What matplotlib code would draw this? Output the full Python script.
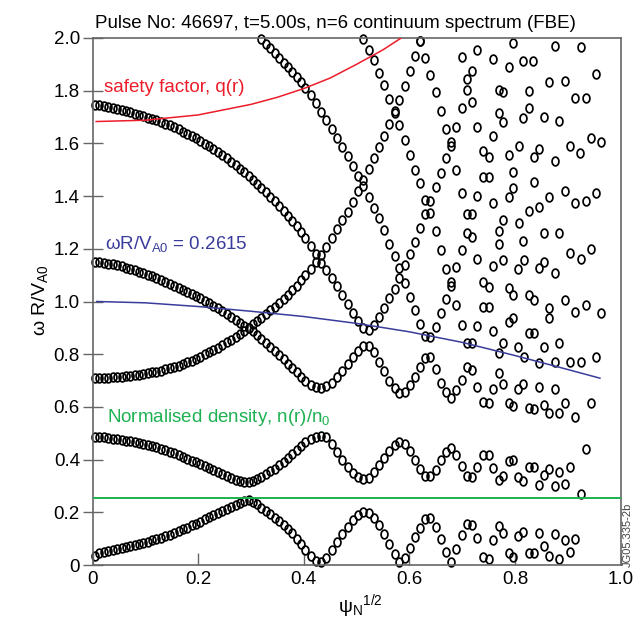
import numpy as np
import matplotlib
matplotlib.use('Agg')
import matplotlib.pyplot as plt
from matplotlib.path import Path

# ---------------- data ----------------
TITLE = 'Pulse No: 46697, t=5.00s, n=6 continuum spectrum (FBE)'
X_TICKS = [0, 0.2, 0.4, 0.6, 0.8, 1.0]
X_TICK_LABELS = ['0', '0.2', '0.4', '0.6', '0.8', '1.0']
Y_TICKS = [0, 0.2, 0.4, 0.6, 0.8, 1.0, 1.2, 1.4, 1.6, 1.8, 2.0]
Y_TICK_LABELS = ['0', '0.2', '0.4', '0.6', '0.8', '1.0', '1.2', '1.4', '1.6', '1.8', '2.0']

# radial grid, inner part
X_LEFT = [0.005, 0.013, 0.022, 0.030, 0.038, 0.047, 0.055, 0.063, 0.071, 0.080,
          0.088, 0.096, 0.105, 0.113, 0.121, 0.130, 0.138, 0.146, 0.154, 0.163,
          0.171, 0.179, 0.188, 0.196, 0.204, 0.213, 0.221, 0.229, 0.237, 0.246,
          0.254, 0.262, 0.271, 0.279, 0.287, 0.296, 0.304, 0.312, 0.320, 0.329,
          0.337, 0.345, 0.354, 0.362, 0.370, 0.378, 0.387, 0.395, 0.403]
L0_LEFT = [0.035, 0.045, 0.051, 0.055, 0.058, 0.062, 0.065, 0.069, 0.073, 0.077,
           0.081, 0.085, 0.089, 0.094, 0.099, 0.104, 0.109, 0.115, 0.121, 0.128,
           0.135, 0.142, 0.150, 0.157, 0.165, 0.173, 0.181, 0.189, 0.197, 0.205,
           0.213, 0.221, 0.229, 0.236, 0.243, 0.245, 0.240, 0.231, 0.218, 0.205,
           0.192, 0.180, 0.166, 0.152, 0.137, 0.120, 0.100, 0.080, 0.058]
L1_LEFT = [0.487, 0.486, 0.484, 0.482, 0.480, 0.477, 0.474, 0.472, 0.469, 0.466,
           0.463, 0.459, 0.455, 0.451, 0.446, 0.441, 0.436, 0.430, 0.424, 0.417,
           0.410, 0.403, 0.396, 0.389, 0.382, 0.375, 0.368, 0.360, 0.352, 0.344,
           0.337, 0.330, 0.324, 0.319, 0.316, 0.316, 0.320, 0.327, 0.335, 0.344,
           0.355, 0.366, 0.378, 0.391, 0.405, 0.420, 0.436, 0.452, 0.468]
L2_LEFT = [0.709, 0.709, 0.710, 0.711, 0.712, 0.713, 0.714, 0.716, 0.718, 0.720,
           0.722, 0.725, 0.728, 0.731, 0.734, 0.738, 0.742, 0.746, 0.751, 0.757,
           0.763, 0.769, 0.776, 0.783, 0.791, 0.799, 0.807, 0.816, 0.825, 0.835,
           0.845, 0.855, 0.866, 0.877, 0.889, 0.901, 0.913, 0.925, 0.938, 0.952,
           0.966, 0.980, 0.995, 1.010, 1.026, 1.042, 1.060, 1.080, 1.100]
L3_LEFT = [1.151, 1.149, 1.147, 1.144, 1.141, 1.137, 1.133, 1.129, 1.124, 1.119,
           1.113, 1.107, 1.101, 1.095, 1.089, 1.082, 1.075, 1.068, 1.060, 1.053,
           1.045, 1.037, 1.029, 1.021, 1.012, 1.003, 0.994, 0.984, 0.974, 0.963,
           0.952, 0.941, 0.930, 0.919, 0.908, 0.900, 0.888, 0.874, 0.859, 0.843,
           0.828, 0.812, 0.796, 0.780, 0.764, 0.748, 0.731, 0.714, 0.698]
D1_LEFT = [1.746, 1.744, 1.741, 1.738, 1.735, 1.731, 1.727, 1.723, 1.718, 1.713,
           1.708, 1.703, 1.698, 1.693, 1.688, 1.682, 1.675, 1.668, 1.661, 1.653,
           1.645, 1.637, 1.628, 1.619, 1.609, 1.599, 1.589, 1.578, 1.567, 1.555,
           1.543, 1.530, 1.517, 1.504, 1.490, 1.476, 1.461, 1.446, 1.430, 1.414,
           1.397, 1.380, 1.362, 1.344, 1.325, 1.306, 1.286, 1.264, 1.242]
B_LEFT = [None] * 38 + [1.997, 1.979, 1.961, 1.943, 1.925, 1.907, 1.889, 1.870,
                        1.851, 1.832, 1.812]

# radial grid, middle part
X_MID = [0.413, 0.423, 0.433, 0.443, 0.453, 0.463, 0.473, 0.483, 0.493, 0.503,
         0.513, 0.523, 0.533, 0.542, 0.552, 0.562, 0.572, 0.581, 0.591, 0.601,
         0.611, 0.620, 0.630, 0.640, 0.650, 0.660, 0.669, 0.679, 0.689, 0.699,
         0.709, 0.718]
L0_MID = [0.035, 0.015, 0.010, 0.028, 0.056, 0.088, 0.118, 0.146, 0.170, 0.188,
          0.200, 0.197, 0.178, 0.152, 0.118, 0.080, 0.042, 0.010, 0.025, 0.066,
          0.106, 0.142, 0.175, 0.178, 0.145, 0.097, 0.048, 0.010, 0.062, 0.112,
          0.156, 0.152]
L1_MID = [0.480, 0.487, 0.490, 0.484, 0.460, 0.430, 0.400, 0.372, 0.350, 0.334,
          0.328, 0.332, 0.352, 0.378, 0.405, 0.432, 0.455, 0.468, 0.458, 0.432,
          0.400, 0.365, 0.337, 0.337, 0.360, 0.398, 0.430, 0.443, 0.418, 0.375,
          0.336, 0.335]
L2_MID = [1.125, 1.150, 1.175, 1.205, 1.240, 1.275, 1.308, 1.340, 1.378, 1.418,
          1.460, 1.502, 1.545, 1.585, 1.628, 1.672, 1.715, 1.765, 1.818, 1.875,
          1.932, 1.988] + [None] * 10
L3_MID = [0.684, 0.674, 0.671, 0.678, 0.692, 0.712, 0.738, 0.764, 0.790, 0.814,
          0.832, 0.832, 0.808, 0.772, 0.738, 0.700, 0.670, 0.652, 0.657, 0.683,
          0.715, 0.750, 0.786, 0.790, 0.742, 0.692, 0.655, 0.633, 0.663, 0.702,
          0.750, 0.740]
D1_MID = [1.212, 1.180, 1.148, 1.118, 1.088, 1.058, 1.026, 0.992, 0.958, 0.925,
          0.900, 0.892, 0.910, 0.940, 0.975, 1.012, 1.048, 1.090, 1.138, 1.182,
          1.227, 1.278, 1.333, 1.380, 1.436, 1.487, 1.545, 1.590, 1.663, 1.734,
          1.803, 1.876]
B_MID = [1.785, 1.752, 1.720, 1.687, 1.654, 1.620, 1.586, 1.552, 1.514, 1.476,
         1.440, 1.398, 1.355, 1.315, 1.270, 1.220, 1.172, 1.126, 1.070, 1.018,
         0.968, 0.915, 0.868, 0.866, 0.905, 0.958, 1.008, 1.060, 1.130, 1.195,
         1.259, 1.332]
C_MID = [None] * 10 + [1.995, 1.955, 1.915, 1.868, 1.820, 1.770, 1.722, 1.668,
                       1.612, 1.556, 1.499, 1.448, 1.385, 1.335, 1.268, 1.195,
                       1.125, 1.075, 0.985, 0.911, 0.841, 0.841]
E_MID = [None] * 21 + [1.990, 1.925, 1.860, 1.796, 1.722, 1.655, 1.606, 1.500,
                       1.412, 1.332, 1.246]
F_MID = [None] * 29 + [1.929, 1.843, 1.758]

# outer region, scattered continuum points (x, y)
OUTER_HIGH = [(0.728, 1.954), (0.797, 1.982), (0.876, 1.970), (0.925, 1.965),
              (0.759, 1.919), (0.788, 1.889), (0.816, 1.914), (0.835, 1.914),
              (0.769, 1.803), (0.778, 1.796), (0.827, 1.800), (0.865, 1.832),
              (0.895, 1.838), (0.953, 1.862), (0.914, 1.771), (0.934, 1.771),
              (0.769, 1.714), (0.778, 1.682), (0.827, 1.733), (0.816, 1.695),
              (0.856, 1.699), (0.884, 1.686), (0.729, 1.661), (0.759, 1.628),
              (0.739, 1.572), (0.750, 1.549), (0.788, 1.556), (0.808, 1.591),
              (0.836, 1.549), (0.846, 1.578), (0.875, 1.534), (0.904, 1.590),
              (0.923, 1.562), (0.944, 1.619), (0.963, 1.606), (0.739, 1.474),
              (0.750, 1.474), (0.797, 1.493), (0.836, 1.455), (0.729, 1.402),
              (0.759, 1.373), (0.788, 1.398), (0.797, 1.430), (0.827, 1.342),
              (0.846, 1.360), (0.865, 1.398), (0.895, 1.420), (0.914, 1.373),
              (0.934, 1.383), (0.953, 1.411)]
OUTER_MID = [(0.778, 1.309), (0.808, 1.297), (0.769, 1.269), (0.856, 1.259),
             (0.884, 1.259), (0.769, 1.218), (0.816, 1.231), (0.904, 1.183),
             (0.925, 1.161), (0.944, 1.199), (0.729, 1.160), (0.759, 1.135),
             (0.778, 1.158), (0.806, 1.122), (0.817, 1.158), (0.846, 1.126),
             (0.856, 1.151), (0.875, 1.107), (0.739, 1.075), (0.750, 1.056),
             (0.788, 1.050), (0.797, 1.025), (0.827, 1.025), (0.836, 1.006),
             (0.865, 0.974), (0.865, 0.936), (0.895, 1.006), (0.914, 0.959),
             (0.934, 0.987), (0.963, 0.955), (0.739, 0.978), (0.750, 0.978),
             (0.729, 0.907), (0.759, 0.889), (0.788, 0.923), (0.797, 0.936),
             (0.827, 0.882), (0.836, 0.882), (0.778, 0.841), (0.769, 0.806),
             (0.806, 0.829), (0.817, 0.791), (0.856, 0.829), (0.884, 0.844),
             (0.846, 0.766), (0.875, 0.769), (0.904, 0.772), (0.925, 0.772),
             (0.954, 0.788), (0.769, 0.728), (0.729, 0.677), (0.759, 0.667),
             (0.778, 0.687), (0.806, 0.667), (0.816, 0.687), (0.846, 0.674),
             (0.875, 0.667), (0.739, 0.620), (0.750, 0.616), (0.788, 0.614),
             (0.797, 0.603), (0.827, 0.595), (0.836, 0.591), (0.856, 0.607),
             (0.865, 0.576), (0.884, 0.578), (0.895, 0.616), (0.914, 0.563),
             (0.944, 0.614)]
OUTER_LOW = [(0.729, 0.373), (0.739, 0.417), (0.750, 0.417), (0.759, 0.367),
             (0.769, 0.323), (0.778, 0.338), (0.788, 0.396), (0.797, 0.398),
             (0.806, 0.335), (0.816, 0.320), (0.827, 0.373), (0.836, 0.371),
             (0.846, 0.304), (0.856, 0.342), (0.865, 0.363), (0.875, 0.300),
             (0.884, 0.354), (0.895, 0.307), (0.904, 0.371), (0.925, 0.269),
             (0.934, 0.439),
             (0.729, 0.101), (0.739, 0.029), (0.750, 0.022), (0.759, 0.095),
             (0.769, 0.148), (0.778, 0.120), (0.788, 0.047), (0.797, 0.029),
             (0.806, 0.110), (0.816, 0.126), (0.827, 0.047), (0.836, 0.047),
             (0.846, 0.120), (0.856, 0.072), (0.865, 0.034), (0.875, 0.118),
             (0.884, 0.022), (0.895, 0.095), (0.904, 0.050), (0.914, 0.098)]

# profiles
Q_X = [0.007, 0.10, 0.20, 0.30, 0.35, 0.40, 0.45, 0.50, 0.55, 0.60]
Q_Y = [1.683, 1.688, 1.708, 1.748, 1.775, 1.808, 1.848, 1.900, 1.955, 2.020]
VA_X = [0.008, 0.10, 0.20, 0.30, 0.40, 0.50, 0.60, 0.70, 0.80, 0.90, 0.961]
VA_Y = [1.000, 0.995, 0.981, 0.963, 0.943, 0.917, 0.885, 0.845, 0.795, 0.742, 0.709]
DENSITY_LEVEL = 0.254

RED = '#ec1c2a'
BLUE = '#3a3c9c'
GREEN = '#1db152'

# ---------------- figure ----------------
plt.rcParams['font.family'] = ['Liberation Sans', 'DejaVu Sans']
plt.rcParams['mathtext.default'] = 'regular'

fig = plt.figure(figsize=(6.39, 6.21), dpi=100)
ax = fig.add_axes([92.5 / 639, 56 / 621, 528 / 639, 527 / 621])

xs, ys = [], []
for xg, series in [(X_LEFT, [L0_LEFT, L1_LEFT, L2_LEFT, L3_LEFT, D1_LEFT, B_LEFT]),
                   (X_MID, [L0_MID, L1_MID, L2_MID, L3_MID, D1_MID, B_MID,
                            C_MID, E_MID, F_MID])]:
    for s in series:
        for xv, yv in zip(xg, s):
            if yv is not None:
                xs.append(xv)
                ys.append(yv)
for group in (OUTER_HIGH, OUTER_MID, OUTER_LOW):
    for xv, yv in group:
        xs.append(xv)
        ys.append(yv)

t = np.linspace(0, 2 * np.pi, 41)
ell = Path(np.column_stack([0.78 * np.cos(t), np.sin(t)]), closed=True)

ax.plot(xs, ys, ls='none', marker=ell, ms=6.3, mfc='none', mec='black',
        mew=1.25, clip_on=False, zorder=2)

ax.plot(Q_X, Q_Y, color=RED, lw=1.1, zorder=3)
ax.plot(VA_X, VA_Y, color=BLUE, lw=1.1, zorder=3)
ax.axhline(DENSITY_LEVEL, color=GREEN, lw=1.4, zorder=3)

ax.text(0.022, 1.796, 'safety factor, q(r)', color=RED, fontsize=13.5)
ax.text(0.024, 1.198, 'ωR/V$_{A0}$ = 0.2615', color=BLUE, fontsize=13.5)
ax.text(0.027, 0.543, 'Normalised density, n(r)/n$_0$', color=GREEN, fontsize=13.5)

ax.set_xlim(0, 1.0)
ax.set_ylim(0, 2.0)
ax.set_xticks(X_TICKS)
ax.set_xticklabels(X_TICK_LABELS)
ax.set_yticks(Y_TICKS)
ax.set_yticklabels(Y_TICK_LABELS)
ax.tick_params(axis='x', direction='in', length=9, width=1.0, color='#666666',
               labelsize=13.5, pad=4)
ax.tick_params(axis='y', direction='inout', length=14, width=1.0, color='#666666',
               labelsize=13.5, pad=2)
for sp in ax.spines.values():
    sp.set_color('#666666')
    sp.set_linewidth(1.2)

fig.text(95 / 639, 1 - 28 / 621, TITLE, ha='left', va='baseline', fontsize=13.5)
fig.text(360 / 639, 1 - 612 / 621, 'ψ$_N$$^{1/2}$', ha='center', va='baseline',
         fontsize=14)
fig.text(40 / 639, 1 - 300 / 621, 'ω R/V$_{A0}$', ha='center', va='center',
         rotation=90, fontsize=14)
fig.text(628 / 639, 1 - 567 / 621, 'JG05.335-2b', ha='center', va='bottom',
         rotation=90, fontsize=8, color='#444444')

fig.savefig('out.png', dpi=100)
